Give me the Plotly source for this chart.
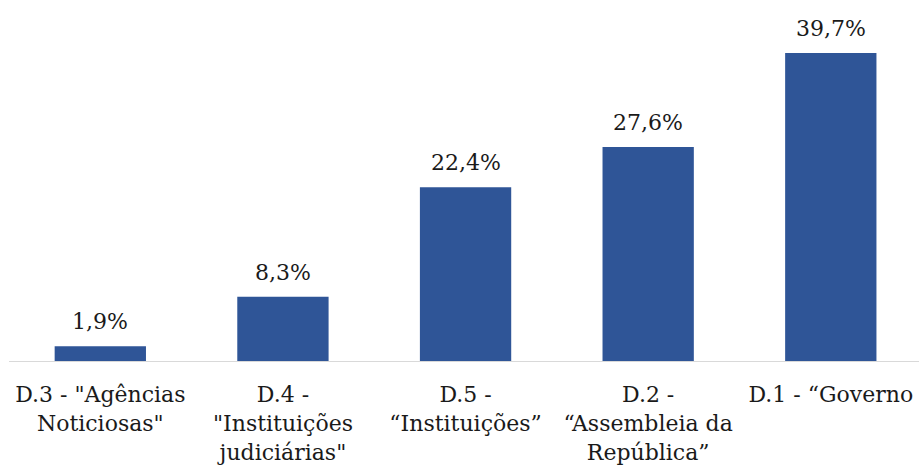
import plotly.graph_objects as go

categories = [
    'D.3 - "Agências<br>Noticiosas"',
    'D.4 -<br>"Instituições<br>judiciárias"',
    'D.5 -<br>“Instituições”',
    'D.2 -<br>“Assembleia da<br>República”',
    'D.1 - “Governo',
]
values = [1.9, 8.3, 22.4, 27.6, 39.7]
value_labels = ["1,9%", "8,3%", "22,4%", "27,6%", "39,7%"]

FONT = "DejaVu Serif"
BAR_COLOR = "#2F5597"

fig = go.Figure()
fig.add_trace(go.Bar(
    x=list(range(len(categories))),
    y=values,
    marker=dict(color=BAR_COLOR, line=dict(width=0)),
    hoverinfo="skip",
))

for i, (v, t) in enumerate(zip(values, value_labels)):
    fig.add_annotation(
        x=i, y=v, xref="x", yref="y", text=t, showarrow=False,
        yanchor="bottom", yshift=10,
        font=dict(family=FONT, size=22, color="#1a1a1a"),
    )

fig.update_layout(
    width=919, height=466,
    margin=dict(l=9, r=0, t=12, b=105),
    paper_bgcolor="white", plot_bgcolor="white",
    bargap=0.5,
    showlegend=False,
    xaxis=dict(
        tickmode="array",
        tickvals=list(range(len(categories))),
        ticktext=categories,
        range=[-0.5, 4.483],
        showline=True, linecolor="#d9d9d9", linewidth=1,
        ticks="", showgrid=False, zeroline=False,
        automargin=False,
        ticklabelstandoff=14,
        tickfont=dict(family=FONT, size=22, color="#1a1a1a"),
    ),
    yaxis=dict(range=[0, 45], visible=False, automargin=False),
)

fig.write_html("out.html", config={"displayModeBar": False},
               post_script="document.body.style.margin='0';")
